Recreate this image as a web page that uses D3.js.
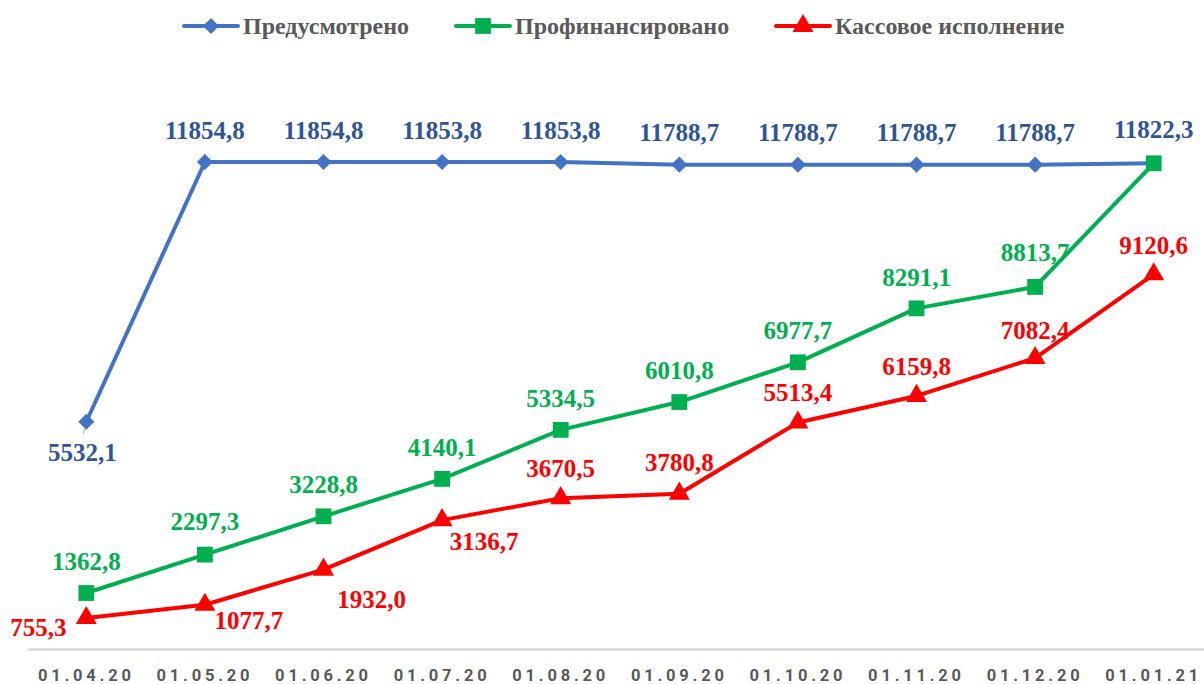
<!DOCTYPE html>
<html>
<head>
<meta charset="utf-8">
<script src="https://cdn.jsdelivr.net/npm/d3@7"></script>
<style>
  body { margin: 0; background: #fff; }
  svg { display: block; }
</style>
</head>
<body>
<div id="chart"></div>
<script>
// data
var dates = ["01.04.20", "01.05.20", "01.06.20", "01.07.20", "01.08.20",
             "01.09.20", "01.10.20", "01.11.20", "01.12.20", "01.01.21"];
var planned  = [5532.1, 11854.8, 11854.8, 11853.8, 11853.8, 11788.7, 11788.7, 11788.7, 11788.7, 11822.3];
var financed = [1362.8, 2297.3, 3228.8, 4140.1, 5334.5, 6010.8, 6977.7, 8291.1, 8813.7, 11822.3];
var executed = [755.3, 1077.7, 1932.0, 3136.7, 3670.5, 3780.8, 5513.4, 6159.8, 7082.4, 9120.6];
var seriesNames = ["Предусмотрено", "Профинансировано", "Кассовое исполнение"];

// label placement per point (dx, dy from the marker); null = no label
var plannedPos  = [[-4, 31], [0, -32], [0, -32], [0, -32], [0, -32], [0, -32], [0, -32], [0, -32], [0, -32], [0, -34]];
var financedPos = [[0, -32], [0, -33], [0, -32], [0, -32], [0, -32], [0, -32], [0, -32], [0, -31], [0, -35], null];
var executedPos = [[-48, 9], [44, 16], [48, 30], [42, 21], [0, -30], [0, -31], [0, -30], [0, -30], [0, -28], [0, -29]];

var width = 1204, height = 684;

var svg = d3.select("#chart").append("svg")
  .attr("width", width)
  .attr("height", height);

var x = d3.scaleBand()
  .domain(dates)
  .range([27, 1213]);

var y = d3.scaleLinear()
  .domain([0, 12000])
  .range([649, 156]);

function cx(i) { return x(dates[i]) + x.bandwidth() / 2; }
function fmt(v) { return d3.format(".1f")(v).replace(".", ","); }

// x axis
var xAxis = svg.append("g")
  .attr("transform", "translate(0,649)")
  .call(d3.axisBottom(x).tickSize(0).tickPadding(20));
xAxis.select(".domain").attr("stroke", "#d9d9d9").attr("stroke-width", 2.5);
xAxis.selectAll("text")
  .attr("font-family", "Roboto, 'Open Sans', sans-serif")
  .attr("font-weight", "bold")
  .attr("font-size", "16.5px")
  .attr("fill", "#595959")
  .style("letter-spacing", "3.8px")
  .attr("dx", "0px");

// diamond = square turned 45 degrees
var diamond = {
  draw: function (context, size) {
    var r = Math.sqrt(size) / 2 * Math.SQRT2;
    context.moveTo(0, -r);
    context.lineTo(r, 0);
    context.lineTo(0, r);
    context.lineTo(-r, 0);
    context.closePath();
  }
};

var series = [
  { name: seriesNames[0], values: planned,  pos: plannedPos,  color: "#4472C4", label: "#2F5597", shape: diamond,          size: 130 },
  { name: seriesNames[1], values: financed, pos: financedPos, color: "#00B050", label: "#00B050", shape: d3.symbolSquare,  size: 250 },
  { name: seriesNames[2], values: executed, pos: executedPos, color: "#FF0000", label: "#FF0000", shape: d3.symbolTriangle, size: 190 }
];

var line = d3.line()
  .x(function (d, i) { return cx(i); })
  .y(function (d) { return y(d); });

// leader line for the first planned label
svg.append("line")
  .attr("x1", cx(0)).attr("y1", y(planned[0]) + 3)
  .attr("x2", cx(0) - 3).attr("y2", y(planned[0]) + 12)
  .attr("stroke", "#a6a6a6")
  .attr("stroke-width", 1);

series.forEach(function (s) {
  svg.append("path")
    .datum(s.values)
    .attr("fill", "none")
    .attr("stroke", s.color)
    .attr("stroke-width", 4)
    .attr("stroke-linejoin", "round")
    .attr("d", line);

  svg.selectAll(null)
    .data(s.values)
    .enter()
    .append("path")
    .attr("transform", function (d, i) { return "translate(" + cx(i) + "," + y(d) + ")"; })
    .attr("d", d3.symbol().type(s.shape).size(s.size))
    .attr("fill", s.color);
});

series.forEach(function (s) {
  svg.selectAll(null)
    .data(s.values)
    .enter()
    .filter(function (d, i) { return s.pos[i] !== null; })
    .append("text")
    .attr("x", function (d, i) { return cx(i) + s.pos[i][0]; })
    .attr("y", function (d, i) { return y(d) + s.pos[i][1]; })
    .attr("dy", "0.35em")
    .attr("text-anchor", "middle")
    .attr("font-family", "'Liberation Serif', 'Times New Roman', serif")
    .attr("font-weight", "bold")
    .attr("font-size", "25px")
    .attr("fill", s.label)
    .text(function (d) { return fmt(d); });
});

// legend
var legendX = [184, 456, 776];
var legend = svg.selectAll(".legend")
  .data(series)
  .enter()
  .append("g")
  .attr("class", "legend")
  .attr("transform", function (d, i) { return "translate(" + legendX[i] + ",26)"; });

legend.append("line")
  .attr("x1", 0).attr("x2", 54)
  .attr("stroke", function (d) { return d.color; })
  .attr("stroke-width", 4)
  .attr("stroke-linecap", "round");

legend.append("path")
  .attr("transform", "translate(27,0)")
  .attr("d", function (d) { return d3.symbol().type(d.shape).size(d.size)(); })
  .attr("fill", function (d) { return d.color; });

legend.append("text")
  .attr("x", 59)
  .attr("dy", "0.35em")
  .attr("font-family", "'Liberation Serif', 'Times New Roman', serif")
  .attr("font-weight", "bold")
  .attr("font-size", "24px")
  .attr("fill", "#595959")
  .text(function (d) { return d.name; });
</script>
</body>
</html>
